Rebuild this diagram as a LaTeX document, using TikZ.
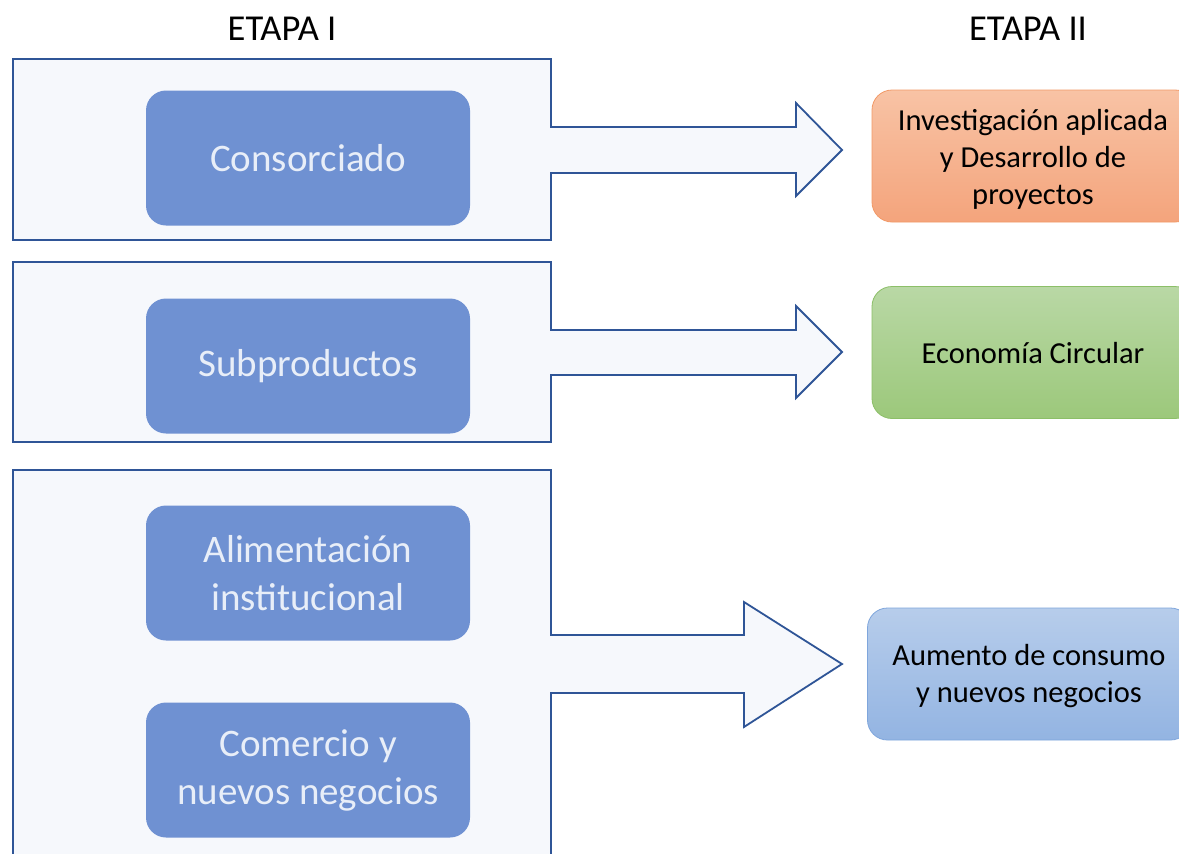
\documentclass[tikz,border=0pt]{standalone}
\usepackage{fontspec}
\setmainfont{Carlito}
\definecolor{frameblue}{HTML}{2F5597}
\definecolor{framefill}{HTML}{F6F8FC}
\definecolor{inblue}{HTML}{6F91D2}
\definecolor{intext}{HTML}{E8EEF8}
\definecolor{orTop}{HTML}{F8C3A5}
\definecolor{orBot}{HTML}{F4A47C}
\definecolor{orLine}{HTML}{F29A68}
\definecolor{grTop}{HTML}{B9D8A5}
\definecolor{grBot}{HTML}{9CC87B}
\definecolor{grLine}{HTML}{8CBF68}
\definecolor{blTop}{HTML}{B7CDEB}
\definecolor{blBot}{HTML}{93B4E2}
\definecolor{blLine}{HTML}{7FA6DC}
\begin{document}
\begin{tikzpicture}[x=1pt,y=-1pt,
  frame/.style={draw=frameblue, line width=1.8pt, fill=framefill, line join=miter},
  inbox/.style={rounded corners=20pt, fill=inblue, minimum width=324pt, minimum height=135pt,
    text=intext, font=\fontsize{39}{48}\selectfont, align=center, inner sep=0pt},
  outbox/.style={rounded corners=20pt, minimum width=323pt, minimum height=132pt, line width=0.8pt},
  outtext/.style={font=\fontsize{30.5}{37}\selectfont, align=center, inner sep=0pt},
  title/.style={font=\fontsize{36.5}{40}\selectfont, inner sep=0pt}
]
\useasboundingbox (0,0) rectangle (1179,854);
\clip (0,0) rectangle (1179,854);
\fill[white] (0,0) rectangle (1179,854);

% titles
\node[title] (t1) at (282,29) {ETAPA I};
\node[title] (t2) at (1028,29) {ETAPA II};

% frames with arrows
\path[frame] (13,59) -- (551,59) -- (551,127) -- (796,127) -- (796,103) -- (842,150)
  -- (796,196) -- (796,173) -- (551,173) -- (551,240) -- (13,240) -- cycle;
\path[frame] (13,262) -- (551,262) -- (551,330) -- (796,330) -- (796,306) -- (842,352)
  -- (796,398) -- (796,375) -- (551,375) -- (551,442) -- (13,442) -- cycle;
\path[frame] (13,470) -- (551,470) -- (551,635) -- (744,635) -- (744,602) -- (842,664)
  -- (744,727) -- (744,693) -- (551,693) -- (551,880) -- (13,880) -- cycle;

% inner boxes
\node[inbox] (b1) at (308,158) {Consorciado};
\node[inbox] (b2) at (308,366) {Subproductos};
\node[inbox] (b3) at (308,573) {Alimentación\\institucional};
\node[inbox] (b4) at (308,770) {Comercio y\\nuevos negocios};

% right boxes
\node[outbox, draw=orLine, top color=orTop, bottom color=orBot] (r1) at (1033.5,156) {};
\node[outtext] (r1t) at (1033,159) {Investigación aplicada\\y Desarrollo de\\proyectos};
\node[outbox, draw=grLine, top color=grTop, bottom color=grBot] (r2) at (1033.5,352.5) {};
\node[outtext] (r2t) at (1033,353) {Economía Circular};
\node[outbox, draw=blLine, top color=blTop, bottom color=blBot] (r3) at (1029,674) {};
\node[outtext] (r3t) at (1029,676) {Aumento de consumo\\y nuevos negocios};
\end{tikzpicture}
\end{document}
